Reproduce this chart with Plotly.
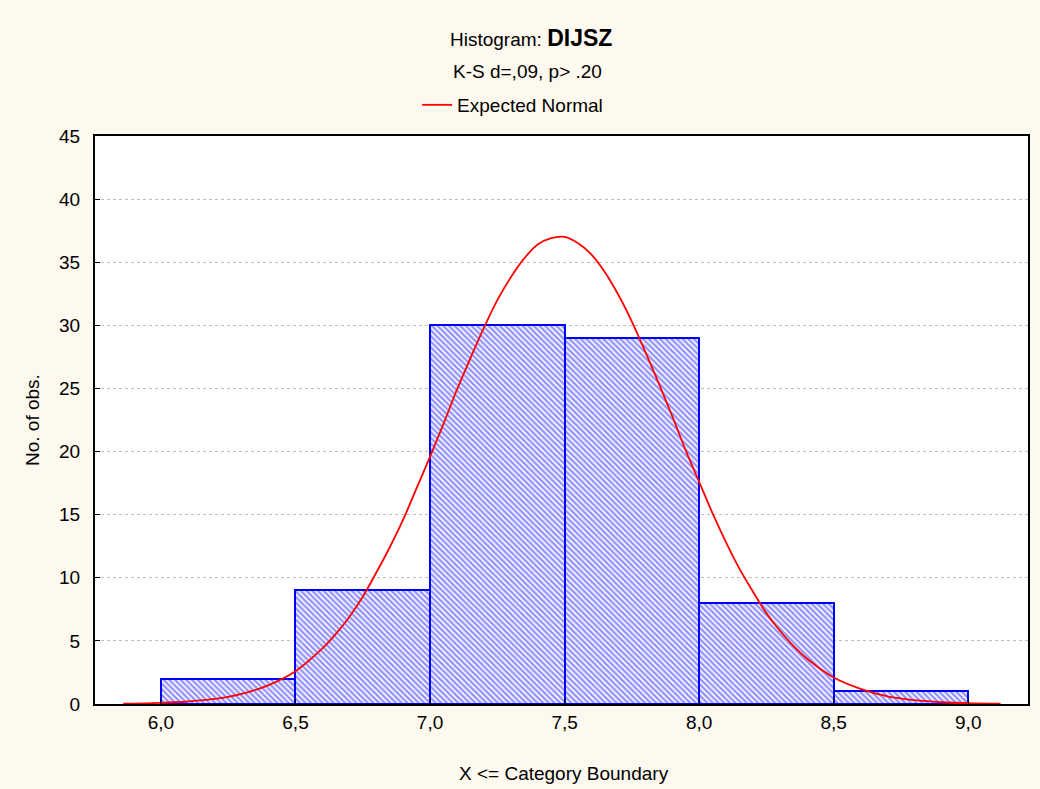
import plotly.graph_objects as go

# ---- data ----
bin_left = [6.0, 6.5, 7.0, 7.5, 8.0, 8.5]
bin_right = [6.5, 7.0, 7.5, 8.0, 8.5, 9.0]
counts = [2, 9, 30, 29, 8, 1]

# Expected normal curve
curve_x = [5.86, 6.0, 6.1, 6.2, 6.3, 6.4, 6.5,
           6.6, 6.65, 6.7, 6.75, 6.8, 6.85, 6.9, 6.95, 7.0, 7.05, 7.1, 7.15, 7.2,
           7.25, 7.3, 7.35, 7.4, 7.45, 7.5, 7.55, 7.6, 7.65, 7.7, 7.75, 7.8, 7.85,
           7.9, 7.95, 8.0, 8.05, 8.1, 8.15, 8.2, 8.25, 8.3, 8.35, 8.4,
           8.5, 8.6, 8.7, 8.8, 8.9, 9.0, 9.12]
curve_y = [0.02, 0.09, 0.2, 0.4, 0.8, 1.5, 2.6,
           4.4, 5.55, 6.9, 8.5, 10.4, 12.4, 14.6, 17.1, 19.6, 22.2, 24.9, 27.4, 29.8,
           32.0, 33.8, 35.3, 36.4, 36.9, 37.0, 36.5, 35.6, 34.2, 32.4, 30.3, 27.9, 25.4,
           22.8, 20.1, 17.6, 15.1, 12.8, 10.7, 8.9, 7.2, 5.8, 4.6, 3.6,
           2.1, 1.2, 0.6, 0.3, 0.14, 0.06, 0.02]

x_ticks = [6.0, 6.5, 7.0, 7.5, 8.0, 8.5, 9.0]
x_tick_labels = ["6,0", "6,5", "7,0", "7,5", "8,0", "8,5", "9,0"]
y_ticks = [0, 5, 10, 15, 20, 25, 30, 35, 40, 45]

title_text = "Histogram: <b><span style='font-size:23px'>DIJSZ</span></b>"
subtitle_text = "K-S d=,09, p> .20"
x_title = "X <= Category Boundary"
y_title = "No. of obs."
legend_name = "Expected Normal"

FONT = "Liberation Sans, Arial, sans-serif"
BG = "#FEF9EF"

centers = [(l + r) / 2 for l, r in zip(bin_left, bin_right)]
widths = [r - l for l, r in zip(bin_left, bin_right)]

fig = go.Figure()
fig.add_trace(go.Bar(
    x=centers, y=counts, width=widths,
    marker=dict(
        color="white",
        line=dict(color="#0000FF", width=2),
        pattern=dict(shape="\\", fgcolor="#2828ff", bgcolor="white",
                     size=4, solidity=0.6),
    ),
    showlegend=False, hoverinfo="skip",
))
fig.add_trace(go.Scatter(
    x=curve_x, y=curve_y, mode="lines", line_shape="spline",
    line=dict(color="#FF0000", width=1.8), name=legend_name,
))

fig.update_layout(
    width=1040, height=789,
    paper_bgcolor=BG, plot_bgcolor="white",
    margin=dict(l=95, r=10, t=136, b=85),
    font=dict(family=FONT, size=19, color="black"),
    separators=",.",
    bargap=0,
    showlegend=True,
    legend=dict(orientation="h", x=0.4476, xanchor="center", y=1.0546, yanchor="middle",
                bgcolor="rgba(0,0,0,0)", font=dict(size=19)),
    xaxis=dict(range=[5.755, 9.222], tickvals=x_ticks, ticktext=x_tick_labels,
               showgrid=False, zeroline=False, showline=True, linecolor="black",
               linewidth=2, mirror=True, ticks="inside", ticklen=5, tickcolor="black",
               ticklabelstandoff=0),
    yaxis=dict(range=[0, 45], tickvals=y_ticks, showgrid=True, gridcolor="#bdbdbd",
               griddash="dot", gridwidth=1, zeroline=False, showline=True,
               linecolor="black", linewidth=2, mirror=True, ticks="inside",
               ticklen=5, tickcolor="black", ticklabelstandoff=9),
    annotations=[
        dict(text=title_text, xref="paper", yref="paper", x=0.4674, y=1.1725,
             xanchor="center", yanchor="middle", showarrow=False, font=dict(size=19)),
        dict(text=subtitle_text, xref="paper", yref="paper", x=0.464, y=1.1144,
             xanchor="center", yanchor="middle", showarrow=False, font=dict(size=19)),
        dict(text=x_title, xref="paper", yref="paper", x=0.5027, y=0, yshift=-69,
             xanchor="center", yanchor="middle", showarrow=False, font=dict(size=19)),
        dict(text=y_title, xref="paper", yref="paper", x=0, y=0.5, xshift=-63,
             xanchor="center", yanchor="middle", textangle=-90, showarrow=False,
             font=dict(size=19)),
    ],
)

fig.write_html(
    "out.html",
    config={"displayModeBar": False},
    post_script=(
        "document.body.style.margin='0';"
        "document.body.style.overflow='hidden';"
        f"document.body.style.background='{BG}';"
    ),
)
